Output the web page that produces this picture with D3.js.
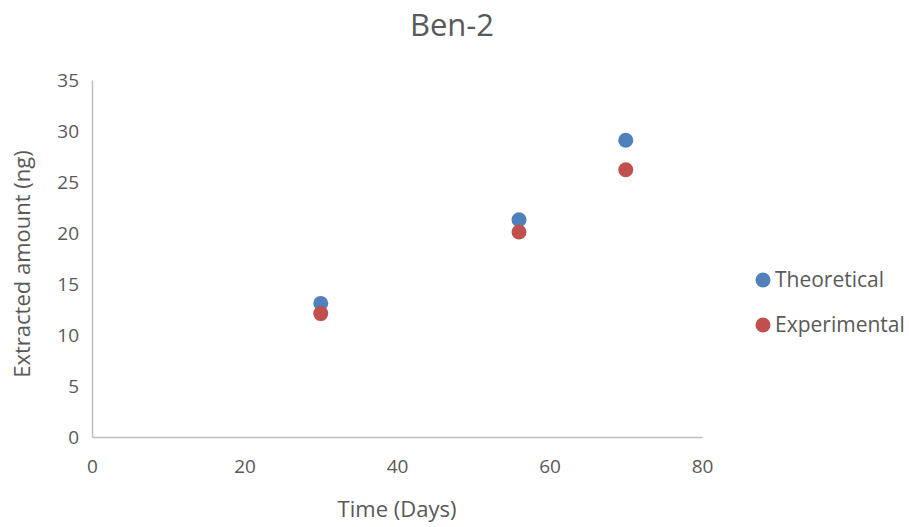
<!DOCTYPE html>
<html>
<head>
<meta charset="utf-8">
<script src="https://cdn.jsdelivr.net/npm/d3@7"></script>
<style>
  body { margin: 0; background: #fff; }
  text { font-family: "Open Sans", "Liberation Sans", sans-serif; fill: #595959; }
</style>
</head>
<body>
<svg id="chart" width="909" height="527"></svg>
<script>
const days = [30, 56, 70];
const theoretical = [13.1, 21.3, 29.1];
const experimental = [12.1, 20.1, 26.2];
const seriesNames = ['Theoretical', 'Experimental'];
const seriesColors = ['#4f81bd', '#c0504d'];
const xTicks = [0, 20, 40, 60, 80];
const yTicks = [0, 5, 10, 15, 20, 25, 30, 35];

const svg = d3.select('#chart');
const plot = {left: 92, right: 702, top: 80, bottom: 437};

const x = d3.scaleLinear().domain([0, 80]).range([plot.left, plot.right]);
const y = d3.scaleLinear().domain([0, 35]).range([plot.bottom, plot.top]);

// title
svg.append('text')
    .attr('x', 452)
    .attr('y', 36)
    .attr('text-anchor', 'middle')
    .attr('font-size', 31)
    .text('Ben-2');

// axes
const xAxis = svg.append('g')
    .attr('transform', `translate(0,${plot.bottom})`)
    .call(d3.axisBottom(x).tickValues(xTicks).tickSize(0).tickPadding(23));
const yAxis = svg.append('g')
    .attr('transform', `translate(${plot.left},0)`)
    .call(d3.axisLeft(y).tickValues(yTicks).tickSize(0).tickPadding(13));
[xAxis, yAxis].forEach(g => {
  g.select('.domain').attr('stroke', '#bfbfbf').attr('stroke-width', 1.5);
  g.selectAll('text').attr('font-size', 19).attr('fill', '#595959')
    .style('font-family', '"Open Sans", "Liberation Sans", sans-serif');
});

// axis titles
svg.append('text')
    .attr('x', 397)
    .attr('y', 517)
    .attr('text-anchor', 'middle')
    .attr('font-size', 22)
    .text('Time (Days)');
svg.append('text')
    .attr('transform', `translate(30,264) rotate(-90)`)
    .attr('text-anchor', 'middle')
    .attr('font-size', 22)
    .text('Extracted amount (ng)');

// points
const series = [theoretical, experimental];
series.forEach((vals, i) => {
  svg.append('g')
    .selectAll('circle')
    .data(days.map((d, j) => ({day: d, value: vals[j]})))
    .enter()
    .append('circle')
      .attr('cx', d => x(d.day))
      .attr('cy', d => y(d.value))
      .attr('r', 7.5)
      .attr('fill', seriesColors[i]);
});

// legend
const legend = svg.append('g')
    .selectAll('g')
    .data(seriesNames)
    .enter()
    .append('g')
      .attr('transform', (d, i) => `translate(763,${280 + i * 45})`);
legend.append('circle')
    .attr('r', 7.5)
    .attr('fill', (d, i) => seriesColors[i]);
legend.append('text')
    .attr('x', 12)
    .attr('y', 7)
    .attr('font-size', 21)
    .text(d => d);
</script>
</body>
</html>
